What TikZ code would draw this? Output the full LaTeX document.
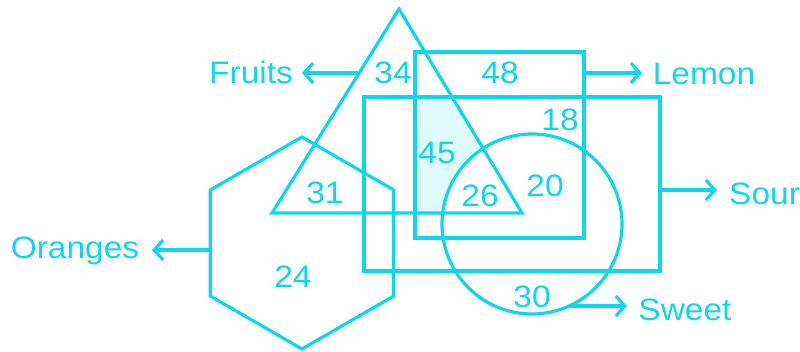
\documentclass[tikz,border=0pt]{standalone}
\usepackage{fontspec}
\setmainfont{Liberation Sans}
\usetikzlibrary{arrows.meta}
\definecolor{cy}{RGB}{14,214,236}
\definecolor{cyfill}{RGB}{222,250,253}
\newcommand{\stretchtxt}[1]{\scalebox{1.08}[1]{#1}}
\begin{document}
\begin{tikzpicture}[x=1pt,y=-1pt,
  shapeline/.style={draw=cy,line width=3.2pt,line join=miter},
  lbl/.style={text=cy,font=\fontsize{31}{36}\selectfont,anchor=base,inner sep=0pt},
  arr/.style={draw=cy,line width=3.2pt,-{Straight Barb[length=9pt,width=20pt,line width=3.2pt]}}]
\useasboundingbox (0,0) rectangle (800,351);
% shaded region
\begin{scope}
  \clip (415,97) rectangle (584,238);
  \clip (399,9) -- (272,213) -- (522,213) -- cycle;
  \fill[cyfill] (400,90) rectangle (590,240);
  \fill[white] (532,224) circle[radius=90];
\end{scope}
% shapes
\draw[shapeline] (399,9) -- (272,213) -- (522,213) -- cycle;
\draw[shapeline] (415,52) rectangle (584,238);
\draw[shapeline] (364,97) rectangle (660,271);
\draw[shapeline] (532,224) circle[radius=90];
\draw[shapeline] (302,137) -- (393.8,190) -- (393.8,296) -- (302,349) -- (210.2,296) -- (210.2,190) -- cycle;
% connector anchors
\coordinate (fr) at (358,73);
\coordinate (le) at (584,73);
\coordinate (so) at (660,190);
\coordinate (sw) at (569,306);
\coordinate (or) at (210.2,250);
% labels
\node[lbl] (tfr) at (251,83) {\stretchtxt{Fruits}};
\node[lbl] (tle) at (704,84) {\stretchtxt{Lemon}};
\node[lbl,anchor=base west] (tso) at (729,204) {\stretchtxt{Sour}};
\node[lbl] (tsw) at (685,320) {\stretchtxt{Sweet}};
\node[lbl] (tor) at (75,258) {\stretchtxt{Oranges}};
\coordinate (frtip) at (302,73);
\coordinate (letip) at (642,73);
\coordinate (sotip) at (717,190);
\coordinate (swtip) at (627,306);
\coordinate (ortip) at (152,250);
\draw[arr] (fr) -- (frtip);
\draw[arr] (le) -- (letip);
\draw[arr] (so) -- (sotip);
\draw[arr] (sw) -- (swtip);
\draw[arr] (or) -- (ortip);
% numbers
\node[lbl] (n34) at (393,83) {\stretchtxt{34}};
\node[lbl] (n48) at (500,83) {\stretchtxt{48}};
\node[lbl] (n18) at (560,130) {\stretchtxt{18}};
\node[lbl] (n45) at (437,163) {\stretchtxt{45}};
\node[lbl] (n26) at (480,206) {\stretchtxt{26}};
\node[lbl] (n20) at (545,196) {\stretchtxt{20}};
\node[lbl] (n31) at (325,203) {\stretchtxt{31}};
\node[lbl] (n24) at (293,287) {\stretchtxt{24}};
\node[lbl] (n30) at (532,307) {\stretchtxt{30}};
\end{tikzpicture}
\end{document}
